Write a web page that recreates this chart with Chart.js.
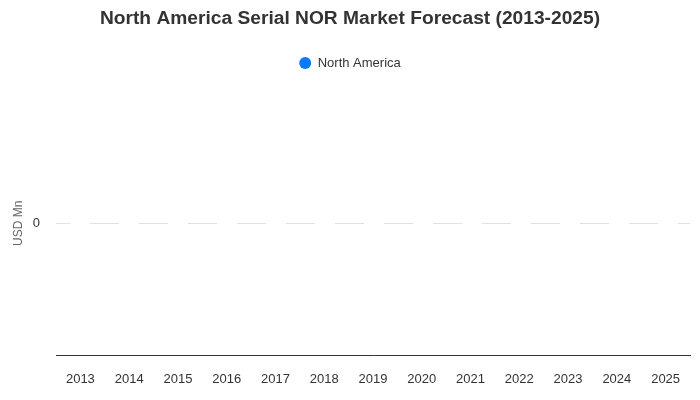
<!DOCTYPE html>
<html>
<head>
<meta charset="utf-8">
<script src="https://cdn.jsdelivr.net/npm/chart.js@4/dist/chart.umd.min.js"></script>
<style>
  html, body { margin: 0; padding: 0; background: #fff; }
  #wrap { width: 700px; height: 400px; }
</style>
</head>
<body>
<div id="wrap"><canvas id="grafica"></canvas></div>
<script>
// datos del grafico
const years = ["2013", "2014", "2015", "2016", "2017", "2018", "2019", "2020", "2021", "2022", "2023", "2024", "2025"];
const northAmerica = [0, 0, 0, 0, 0, 0, 0, 0, 0, 0, 0, 0, 0];
const serieNombre = "North America";
const titulo = "North America Serial NOR Market Forecast (2013-2025)";

Chart.defaults.font.family = "'Liberation Sans', Arial, sans-serif";

// un poco mas de aire debajo de la leyenda
const espacioLeyenda = {
    id: 'espacioLeyenda',
    beforeInit(chart) {
        const fitOriginal = chart.legend.fit;
        chart.legend.fit = function () {
            fitOriginal.call(this);
            this.height += 12;
        };
    }
};

new Chart(document.getElementById("grafica"), {
    type: 'bar',
    data: {
        labels: years,
        datasets: [{
            label: serieNombre,
            data: northAmerica,
            backgroundColor: '#0a7bff',
            borderColor: '#0a7bff',
            borderWidth: 0
        }]
    },
    plugins: [espacioLeyenda],
    options: {
        responsive: true,
        maintainAspectRatio: false,
        animation: false,
        layout: { padding: 0 },
        scales: {
            x: {
                grid: { display: false, drawTicks: false },
                border: { display: true, color: '#333333', width: 1 },
                ticks: { color: '#333333', font: { size: 13 }, padding: 17 },
                afterFit: s => { s.height = 45; }
            },
            y: {
                beginAtZero: false,
                grid: {
                    drawTicks: false,
                    color: ctx => ctx.tick && ctx.tick.value === 0 ? '#e0e0e0' : 'rgba(0,0,0,0)'
                },
                border: { display: false, dash: [29, 20], dashOffset: 15 },
                ticks: {
                    color: '#333333',
                    font: { size: 13 },
                    padding: 16,
                    callback: v => v === 0 ? '0' : ''
                },
                title: {
                    display: true,
                    text: 'USD Mn',
                    color: '#666666',
                    font: { size: 12 },
                    padding: { top: 11, bottom: 0 }
                },
                afterFit: s => { s.width = 56; }
            },
            margenDer: {
                position: 'right',
                grid: { display: false, drawTicks: false },
                border: { display: false },
                ticks: { display: false },
                afterFit: s => { s.width = 10; }
            }
        },
        plugins: {
            title: {
                display: true,
                text: titulo,
                color: '#333333',
                font: { size: 19.2, weight: 'bold' },
                padding: { top: 7, bottom: 5 }
            },
            legend: {
                labels: {
                    usePointStyle: true,
                    pointStyle: 'circle',
                    boxWidth: 12,
                    boxHeight: 8.5,
                    padding: 21.5,
                    color: '#333333',
                    font: { size: 13 }
                }
            },
            tooltip: { enabled: false }
        }
    }
});
</script>
</body>
</html>
